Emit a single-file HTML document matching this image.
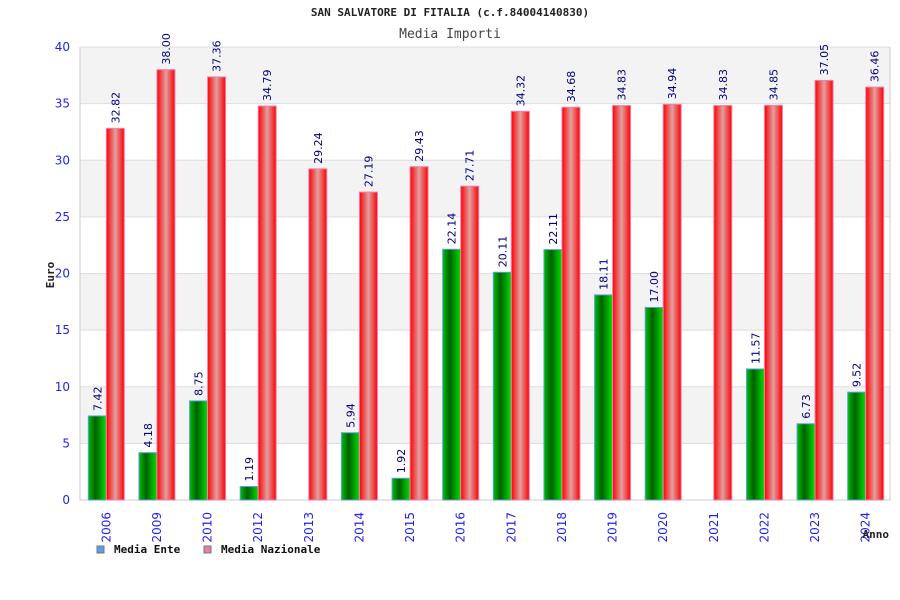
<!DOCTYPE html>
<html><head><meta charset="utf-8"><style>
body{margin:0;background:#fff}
svg{display:block;font-family:"DejaVu Sans Mono","Liberation Mono",monospace}
.s{font-family:"DejaVu Sans","Liberation Sans",sans-serif}
</style></head><body>
<svg id="c" width="900" height="600">
<defs>
<linearGradient id="gG" x1="0" x2="1"><stop offset="0" stop-color="#00c000"/><stop offset="0.4" stop-color="#006000"/><stop offset="1" stop-color="#00e000"/></linearGradient>
<linearGradient id="gR" x1="0" x2="1"><stop offset="0" stop-color="#ff0000"/><stop offset="0.5" stop-color="#e0a0a0"/><stop offset="1" stop-color="#ff0000"/></linearGradient>
</defs>
<text x="450" y="16" text-anchor="middle" font-size="11" font-weight="bold" fill="#222">SAN SALVATORE DI FITALIA (c.f.84004140830)</text>
<text x="450" y="38" text-anchor="middle" font-size="13" fill="#444">Media Importi</text>
<g id="grid"></g>
<g id="bars"></g>
<text transform="translate(54,275) rotate(-90)" text-anchor="middle" font-size="11" font-weight="bold" fill="#222">Euro</text>
<text x="889" y="538" text-anchor="end" font-size="11" font-weight="bold" fill="#222">Anno</text>
<g><rect x="97" y="546" width="7" height="7" fill="#5aa0e8" stroke="#777"/><text x="114" y="553" font-size="11" font-weight="bold" fill="#111">Media Ente</text></g>
<g><rect x="204" y="546" width="7" height="7" fill="#e080b0" stroke="#777"/><text x="221" y="553" font-size="11" font-weight="bold" fill="#111">Media Nazionale</text></g>
</svg>
<script>
const categories=["2006","2009","2010","2012","2013","2014","2015","2016","2017","2018","2019","2020","2021","2022","2023","2024"];
const enteValues=[7.42,4.18,8.75,1.19,null,5.94,1.92,22.14,20.11,22.11,18.11,17.00,null,11.57,6.73,9.52];
const nazValues=[32.82,38.00,37.36,34.79,29.24,27.19,29.43,27.71,34.32,34.68,34.83,34.94,34.83,34.85,37.05,36.46];
const yTicks=[0,5,10,15,20,25,30,35,40];
const NS="http://www.w3.org/2000/svg";
const L=80,R=890,T=47,B=500,yMax=40;
const y=v=>B-(v/yMax)*(B-T);
const gw=(R-L)/categories.length;
const x=i=>L+gw*(i+0.5)+1;
function mk(tag,attrs,parent){const e=document.createElementNS(NS,tag);for(const k in attrs)e.setAttribute(k,attrs[k]);parent.appendChild(e);return e;}
const grid=document.getElementById('grid'),bars=document.getElementById('bars');
for(let i=0;i<yTicks.length-1;i++){
 const r=mk('rect',{x:L,y:y(yTicks[i+1]),width:R-L,height:y(yTicks[i])-y(yTicks[i+1]),fill:i%2?'#f3f3f3':'#ffffff'},grid);
 
 
}
yTicks.forEach(t=>{
 const l=mk('line',{x1:L,x2:R,y1:y(t),y2:y(t),stroke:'#ddd'},grid);
 
 
 const tx=mk('text',{x:70,y:y(t)+4,'text-anchor':'end','font-size':12,fill:'#2222ee','class':'s'},grid);
 tx.textContent=t;
 
 
});
const ax=mk('path',{d:`M${L},${T}V${B}H${R}V${T}`,stroke:'#ccc',fill:'none'},grid);


const bw=18;
function bar(i,v,dx,fill,stroke,name){
 if(v==null)return;
 const r=mk('rect',{x:x(i)+dx,y:y(v),width:bw,height:B-y(v),fill:fill,stroke:stroke,'stroke-width':1},bars);
 
 
 const t=mk('text',{transform:`translate(${x(i)+dx+bw/2+4},${y(v)-5}) rotate(-90)`,'font-size':11,fill:'#000080','class':'s'},bars);
 t.textContent=v.toFixed(2);
 
 
}
categories.forEach((c,i)=>{
 bar(i,enteValues[i],-bw,'url(#gG)','#5aa0e8','bar-media-ente');
 bar(i,nazValues[i],0,'url(#gR)','#f080b0','bar-media-nazionale');
 const t=mk('text',{transform:`translate(${x(i)+4},${512}) rotate(-90)`,'text-anchor':'end','font-size':12,fill:'#2222ee','class':'s'},bars);
 t.textContent=c;
 
 
});
</script>
</body></html>
